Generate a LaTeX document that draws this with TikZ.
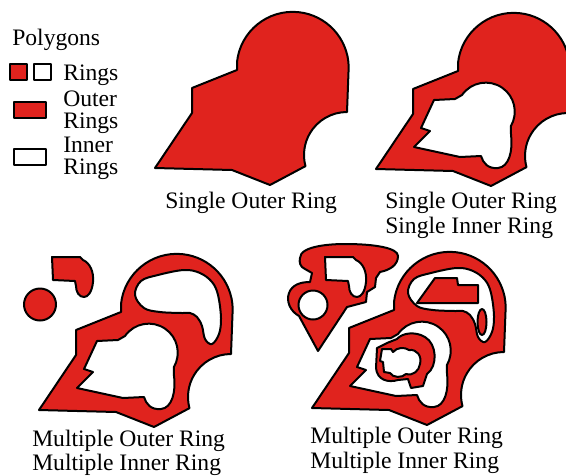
\documentclass[tikz,border=0pt]{standalone}
\usepackage{fontspec}
\setmainfont{Liberation Serif}
\usepackage{xcolor}

\definecolor{ringred}{RGB}{224,35,30}

% ring outlines, drawn at the lower left picture and shifted for the others
\newcommand{\outerring}{(39,410) -- (76,355) -- (76,330) -- (121,312) -- (121,304) arc (186:359:56) -- (231,354) arc (270:165:43) -- (154,427) -- (116,412) -- cycle}
\newcommand{\lowerhole}{(77,388) -- (93,372) -- (84,369) -- (97,341) -- (118,340) -- (125,336) arc (215:390:29) -- (174,376) .. controls (176,392) and (172,408) .. (161,409) .. controls (151,410) and (146,404) .. (144,397) -- (123,398) -- cycle}
\newcommand{\kidneyhole}{plot [smooth cycle,tension=0.6] coordinates {(135,295) (141,281) (158,275) (184,270) (200,273) (212,282) (218,295) (221,318) (219,334) (212,344) (205,339) (202,326) (197,317) (190,313) (182,313) (160,312) (144,308)}}
\newcommand{\hookring}{(52,257) -- (80,257) -- (83,260) .. controls (90,263) and (94,272) .. (93,282) .. controls (92,292) and (88,297) .. (84,297) .. controls (79,297) and (76,292) .. (76,286) -- (75,281) -- (53,280) -- cycle}

\begin{document}
\begin{tikzpicture}[x=0.75pt,y=0.75pt,yscale=-1,xscale=1,
	ring/.style={draw=black,line width=1.5pt,line join=round},
	outer/.style={ring,fill=ringred},
	inner/.style={ring,fill=white},
	lbl/.style={anchor=base west,inner sep=0pt,font=\fontsize{17.7}{18.8}\selectfont},
	leg/.style={lbl,align=left,font=\fontsize{17.7}{15.8}\selectfont}]
	\useasboundingbox (0,0) rectangle (566,475);
	
	% Legend
	\node[lbl] (legtitle) at (12,45) {Polygons};
	\draw[outer] (10,64) rectangle (27,80);
	\draw[inner] (34,64) rectangle (51,80);
	\node[lbl] (legrings) at (63,80) {Rings};
	\draw[outer,line width=2.2pt] (14,102) rectangle (46,118);
	\node[leg] (legouter) at (63,128) {Outer\\Rings};
	\draw[inner,line width=2.2pt] (14,149) rectangle (46,165);
	\node[leg] (leginner) at (63,174) {Inner\\Rings};
	
	% Single outer ring
	\begin{scope}[shift={(116,-242)}]
		\draw[outer] \outerring;
	\end{scope}
	\node[lbl] (capsingle) at (165,208) {Single Outer Ring};
	
	% Single outer ring, single inner ring
	\begin{scope}[shift={(337,-241)}]
		\draw[outer] \outerring;
		\draw[inner] \lowerhole;
	\end{scope}
	\node[lbl] (capsingleo) at (385,208) {Single Outer Ring};
	\node[lbl] (capsinglei) at (385,233) {Single Inner Ring};
	
	% Multiple outer rings, multiple inner rings
	\draw[outer] (40,304.5) circle (16);
	\draw[outer] \hookring;
	\draw[outer] \outerring;
	\draw[inner] \lowerhole;
	\draw[inner] \kidneyhole;
	\node[lbl] (capmultio) at (32,446) {Multiple Outer Ring};
	\node[lbl] (capmultii) at (32,470) {Multiple Inner Ring};
	
	% Multiple rings with islands
	\draw[outer] (300,258) .. controls (300,246) and (330,244) .. (345,244) .. controls (375,244) and (398,248) .. (398,256) .. controls (398,265) and (390,270) .. (380,272) -- (376,278) -- (375,287) -- (367,292) -- (366,302) -- (347,307) -- (318,351) -- (299,316) .. controls (290,311) and (286,301) .. (289,293) .. controls (292,285) and (300,282) .. (310,282) -- (312,273) -- (305,269) .. controls (300,267) and (299,262) .. (300,258) -- cycle;
	\draw[inner] (313,305) circle (14.5);
	\begin{scope}[shift={(273,0)}]
		\draw[inner] \hookring;
	\end{scope}
	\begin{scope}[shift={(273,-2)}]
		\draw[outer] \outerring;
		\draw[inner] \lowerhole;
		\draw[inner] \kidneyhole;
	\end{scope}
	\draw[outer] (417,303) -- (435,278) -- (457,278) -- (458,285) -- (478,285) -- (478,303) -- cycle;
	\draw[outer] (482,322) ellipse (4.5 and 13);
	\draw[outer] (377,348) -- (376,368) .. controls (377,380) and (388,383) .. (398,380) -- (408,379) -- (411,388) -- (423,386) -- (427,374) .. controls (438,366) and (437,344) .. (425,337) .. controls (415,331) and (402,333) .. (397,339) -- (387,343) -- cycle;
	\draw[inner] (382,349) -- (391,349) -- (393,352) .. controls (397,347) and (405,347) .. (409,350) .. controls (417,349) and (422,356) .. (420,364) .. controls (419,371) and (413,376) .. (406,374) .. controls (402,378) and (393,378) .. (390,373) -- (384,372) -- (383,362) -- (380,361) -- cycle;
	\node[lbl] (capislando) at (310,443) {Multiple Outer Ring};
	\node[lbl] (capislandi) at (310,468) {Multiple Inner Ring};
	
\end{tikzpicture}
\end{document}
